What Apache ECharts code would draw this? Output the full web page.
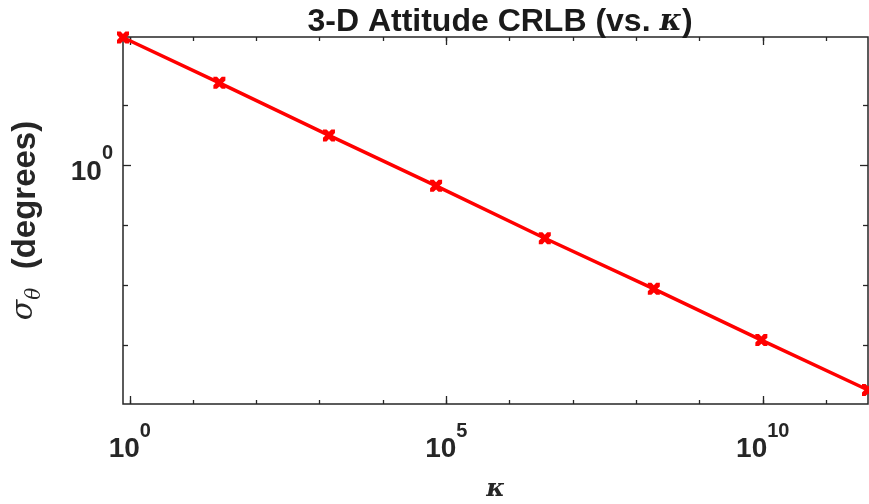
<!DOCTYPE html>
<html>
<head>
<meta charset="utf-8">
<script src="https://cdn.jsdelivr.net/npm/echarts@6/dist/echarts.min.js"></script>
<style>
  html, body { margin: 0; padding: 0; background: #fff; }
  #chart { width: 869px; height: 504px; }
</style>
</head>
<body>
<div id="chart"></div>
<script>
// values (log-log plot)
const kappa = [0.78, 26, 1.4e3, 6.9e4, 3.6e6, 1.9e8, 9.5e9, 4.6e11];
const sigmaDeg = [1.63, 1.37, 1.12, 0.923, 0.755, 0.622, 0.511, 0.422];
const xMajorTicks = [0, 5, 10];
const xMinorTicks = [0, 1, 2, 3, 4, 5, 6, 7, 8, 9, 10, 11];
const yMajorTicks = [0];
const yMinorTicks = [-0.3, -0.2, -0.1, 0.1];

const axisColor = '#262626';
const font = 'Liberation Sans, Arial, sans-serif';

const xMin = Math.log10(kappa[0]);
const xMax = Math.log10(kappa[kappa.length - 1]);
const yMin = -0.398;
const yMax = 0.213;

const points = kappa.map((k, i) => [Math.log10(k), Math.log10(sigmaDeg[i])]);

const powRich = {
  b: { fontSize: 28, fontWeight: 'bold', fontFamily: font, color: axisColor, lineHeight: 42, verticalAlign: 'bottom' },
  s: { fontSize: 20, fontWeight: 'bold', fontFamily: font, color: axisColor, lineHeight: 10, verticalAlign: 'top' },
};

function tickAxis(pos, ticks, len, labels, extra) {
  return Object.assign({
    type: 'value',
    position: pos,
    axisLine: { show: false, onZero: false },
    splitLine: { show: false },
    axisTick: { inside: true, length: len, customValues: ticks, lineStyle: { color: axisColor, width: 1.3 } },
    axisLabel: labels ? {
      customValues: labels,
      margin: pos === 'bottom' ? 17 : 10,
      formatter: (v) => '{b|10}{s|' + Math.round(v) + '}',
      rich: powRich,
    } : { show: false },
  }, extra);
}

const chart = echarts.init(document.getElementById('chart'));

chart.setOption({
  animation: false,
  backgroundColor: '#fff',
  title: {
    text: '{t|3-D Attitude CRLB (vs. }{k|κ}{t|)}',
    left: 495,
    top: 1,
    textAlign: 'center',
    textStyle: {
      rich: {
        t: { fontSize: 32, fontWeight: 'bold', fontFamily: font, color: '#1a1a1a' },
        k: { fontSize: 30, fontWeight: 'bold', fontStyle: 'italic', fontFamily: 'DejaVu Serif, serif', color: '#1a1a1a' },
      },
    },
  },
  grid: {
    left: 123,
    right: 1,
    top: 37,
    bottom: 100,
    containLabel: false,
    outerBoundsMode: 'none',
    show: true,
    borderColor: axisColor,
    borderWidth: 1.5,
    backgroundColor: '#fff',
  },
  xAxis: [
    tickAxis('bottom', xMajorTicks, 8, xMajorTicks, {
      min: xMin, max: xMax,
      name: 'κ',
      nameLocation: 'middle',
      nameGap: 73,
      nameTextStyle: { fontSize: 25, fontWeight: 'bold', fontStyle: 'italic', fontFamily: 'DejaVu Serif, serif', color: axisColor },
    }),
    tickAxis('bottom', xMinorTicks, 4, null, { min: xMin, max: xMax }),
    tickAxis('top', xMajorTicks, 8, null, { min: xMin, max: xMax }),
    tickAxis('top', xMinorTicks, 4, null, { min: xMin, max: xMax }),
  ],
  yAxis: [
    tickAxis('left', yMajorTicks, 8, yMajorTicks, {
      min: yMin, max: yMax,
      name: '{s|σ}{t|θ}{d|  (degrees)}',
      nameLocation: 'middle',
      nameGap: 78,
      nameRotate: 90,
      nameTextStyle: {
        rich: {
          s: { fontSize: 30, fontStyle: 'italic', fontFamily: 'DejaVu Serif, serif', color: axisColor, lineHeight: 36, verticalAlign: 'top' },
          t: { fontSize: 20, fontStyle: 'italic', fontFamily: 'DejaVu Serif, serif', color: axisColor, lineHeight: 18, verticalAlign: 'bottom' },
          d: { fontSize: 33, fontWeight: 'bold', fontFamily: font, color: axisColor, lineHeight: 36, verticalAlign: 'top' },
        },
      },
    }),
    tickAxis('left', yMinorTicks, 5, null, { min: yMin, max: yMax }),
    tickAxis('right', yMajorTicks, 8, null, { min: yMin, max: yMax }),
    tickAxis('right', yMinorTicks, 5, null, { min: yMin, max: yMax }),
  ],
  series: [{
    type: 'line',
    xAxisIndex: 0,
    yAxisIndex: 0,
    data: points,
    clip: false,
    symbol: 'path://M0,0 L3,0 L5,2 L7,0 L10,0 L10,3 L8,5 L10,7 L10,10 L7,10 L5,8 L3,10 L0,10 L0,7 L2,5 L0,3 Z',
    symbolSize: 12,
    showAllSymbol: true,
    itemStyle: { color: '#ff0000' },
    lineStyle: { color: '#ff0000', width: 3.5 },
    z: 5,
  }],
});
</script>
</body>
</html>
